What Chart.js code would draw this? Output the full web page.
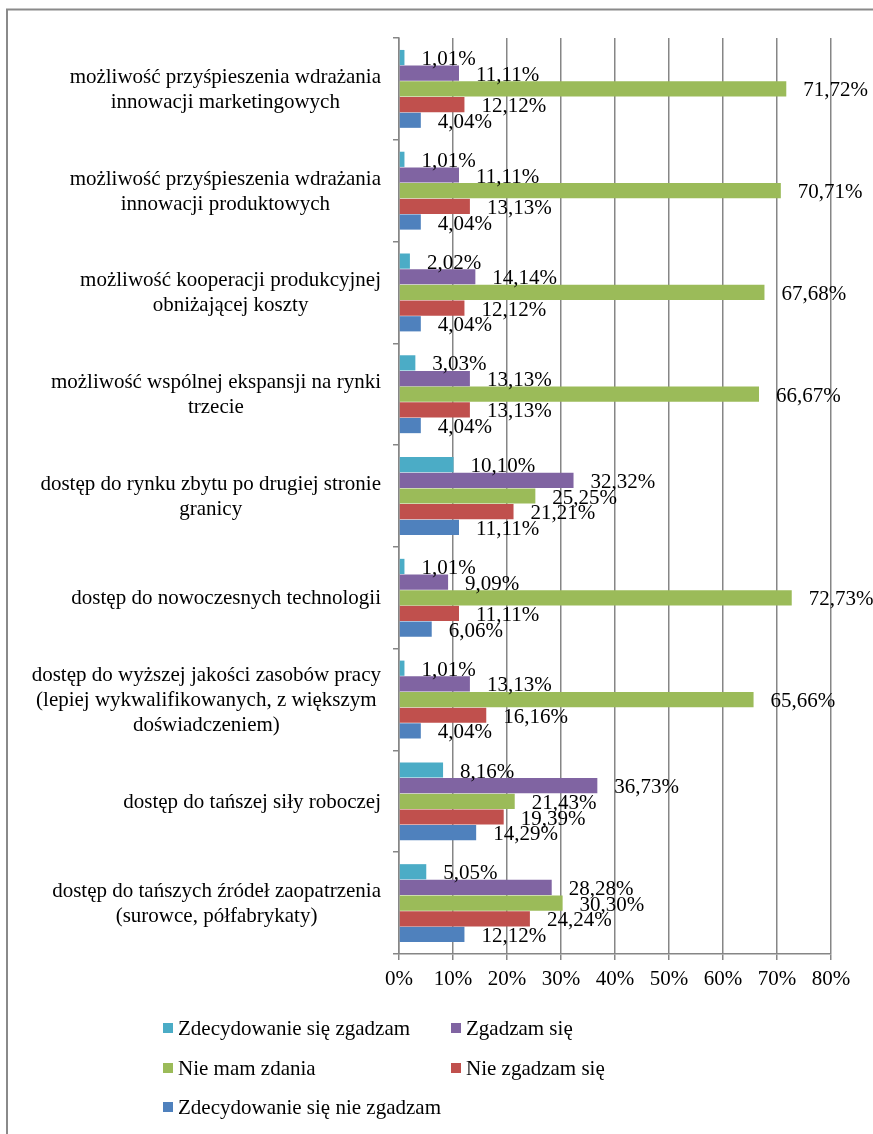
<!DOCTYPE html>
<html>
<head>
<meta charset="utf-8">
<script src="https://cdn.jsdelivr.net/npm/chart.js@4.4.0/dist/chart.umd.min.js"></script>
<style>
  html, body { margin: 0; padding: 0; background: #fff; }
  #wrap { position: absolute; left: 0; top: 0; width: 873px; height: 1134px; }
</style>
</head>
<body>
<div id="wrap"><canvas id="chart" width="873" height="1134"></canvas></div>
<script>
// categories, top to bottom (each entry = lines of the label)
const categories = [
  ["możliwość przyśpieszenia wdrażania", "innowacji marketingowych"],
  ["możliwość przyśpieszenia wdrażania", "innowacji produktowych"],
  ["możliwość kooperacji produkcyjnej", "obniżającej koszty"],
  ["możliwość wspólnej ekspansji na rynki", "trzecie"],
  ["dostęp do rynku zbytu po drugiej stronie", "granicy"],
  ["dostęp do nowoczesnych technologii"],
  ["dostęp do wyższej jakości zasobów pracy", "(lepiej wykwalifikowanych, z większym", "doświadczeniem)"],
  ["dostęp do tańszej siły roboczej"],
  ["dostęp do tańszych źródeł zaopatrzenia", "(surowce, półfabrykaty)"]
];

const seriesNames = ["Zdecydowanie się zgadzam", "Zgadzam się", "Nie mam zdania", "Nie zgadzam się", "Zdecydowanie się nie zgadzam"];
const seriesColors = ["#4BACC6", "#8064A2", "#9BBB59", "#C0504D", "#4F81BD"];

// values in %
const zdecydowanieZgadzam = [1.01, 1.01, 2.02, 3.03, 10.10, 1.01, 1.01, 8.16, 5.05];
const zgadzam = [11.11, 11.11, 14.14, 13.13, 32.32, 9.09, 13.13, 36.73, 28.28];
const nieMamZdania = [71.72, 70.71, 67.68, 66.67, 25.25, 72.73, 65.66, 21.43, 30.30];
const nieZgadzam = [12.12, 13.13, 12.12, 13.13, 21.21, 11.11, 16.16, 19.39, 24.24];
const zdecydowanieNieZgadzam = [4.04, 4.04, 4.04, 4.04, 11.11, 6.06, 4.04, 14.29, 12.12];

const xTicks = [0, 10, 20, 30, 40, 50, 60, 70, 80];

const allSeries = [zdecydowanieZgadzam, zgadzam, nieMamZdania, nieZgadzam, zdecydowanieNieZgadzam];

const FONT = "'Liberation Serif', 'Times New Roman', serif";
const GRID = "#868686";

const fmt = v => v.toFixed(2).replace(".", ",") + "%";

// frame, category labels, value labels and legend
const decor = {
  id: "decor",
  beforeDraw(chart) {
    const ctx = chart.ctx;
    ctx.save();
    ctx.strokeStyle = "#8a8a8a";
    ctx.lineWidth = 2;
    ctx.beginPath();
    ctx.moveTo(7, 1134);
    ctx.lineTo(7, 9.5);
    ctx.lineTo(873, 9.5);
    ctx.stroke();
    ctx.restore();
  },
  afterDraw(chart) {
    const ctx = chart.ctx;
    const yScale = chart.scales.y;
    ctx.save();
    ctx.fillStyle = "#000";
    ctx.font = "21px " + FONT;
    ctx.textBaseline = "middle";
    ctx.textAlign = "center";

    // category labels: block right-aligned, lines centered
    categories.forEach((lines, i) => {
      const cy = yScale.getPixelForValue(i) + 1;
      const w = Math.max(...lines.map(l => ctx.measureText(l).width));
      const cx = 381 - w / 2;
      lines.forEach((l, k) => {
        ctx.fillText(l, cx, cy + (k - (lines.length - 1) / 2) * 25);
      });
    });

    // value labels
    ctx.textAlign = "left";
    chart.data.datasets.forEach((ds, di) => {
      const meta = chart.getDatasetMeta(di);
      meta.data.forEach((bar, i) => {
        ctx.fillText(fmt(ds.data[i]), bar.x + 17, bar.y + 2);
      });
    });

    // legend
    const cols = [163, 451];
    const rows = [1035, 1075, 1114];
    ctx.textBaseline = "alphabetic";
    seriesNames.forEach((name, i) => {
      const x = cols[i % 2];
      const y = rows[Math.floor(i / 2)];
      ctx.fillStyle = seriesColors[i];
      ctx.fillRect(x, y - 12, 10, 10);
      ctx.fillStyle = "#000";
      ctx.fillText(name, x + 15, y);
    });
    ctx.restore();
  }
};

new Chart(document.getElementById("chart"), {
  type: "bar",
  data: {
    labels: categories.map(c => c.join(" ")),
    datasets: seriesNames.map((name, i) => ({
      label: name,
      data: allSeries[i],
      backgroundColor: seriesColors[i],
      borderWidth: 0,
      categoryPercentage: 0.77,
      barPercentage: 0.97
    }))
  },
  options: {
    indexAxis: "y",
    responsive: false,
    animation: false,
    devicePixelRatio: 1,
    layout: { padding: { top: 38, right: 42, bottom: 140, left: 0 } },
    plugins: {
      legend: { display: false },
      tooltip: { enabled: false }
    },
    scales: {
      x: {
        min: 0,
        max: 80,
        afterBuildTicks: s => { s.ticks = xTicks.map(v => ({ value: v })); },
        afterFit: s => { s.height = 40; },
        ticks: {
          callback: v => v + "%",
          color: "#000",
          font: { family: FONT, size: 21 },
          padding: 7,
          maxRotation: 0
        },
        grid: { color: GRID, lineWidth: 1.5, tickLength: 6 },
        border: { color: GRID, width: 1.5 }
      },
      y: {
        afterFit: s => { s.width = 399; },
        ticks: { display: false },
        grid: { drawOnChartArea: false, color: GRID, lineWidth: 1.5, tickLength: 6, offset: true },
        border: { color: GRID, width: 1.5 }
      }
    }
  },
  plugins: [decor]
});
</script>
</body>
</html>
